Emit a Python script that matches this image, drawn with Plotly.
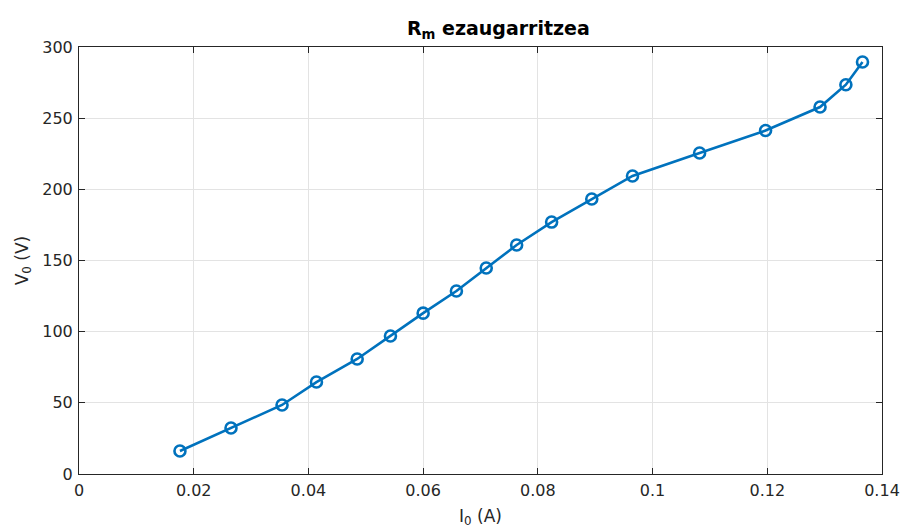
import plotly.graph_objects as go

current_A = [0.0176, 0.0265, 0.0354, 0.0414, 0.0485, 0.0543, 0.0600, 0.0658,
             0.0710, 0.0763, 0.0824, 0.0894, 0.0965, 0.1082, 0.1197, 0.1292,
             0.1337, 0.1366]
voltage_V = [16.2, 32.3, 48.5, 64.6, 80.8, 97.0, 113.0, 128.6, 144.7, 160.9,
             177.0, 193.2, 209.4, 225.5, 241.3, 257.8, 273.5, 289.5]

xticks = [0, 0.02, 0.04, 0.06, 0.08, 0.1, 0.12, 0.14]
xticklabels = ["0", "0.02", "0.04", "0.06", "0.08", "0.1", "0.12", "0.14"]
yticks = [0, 50, 100, 150, 200, 250, 300]

FONT = "DejaVu Sans"
TXT = "#262626"
GRID = "#e3e3e3"

fig = go.Figure()
fig.add_trace(go.Scatter(
    x=current_A, y=voltage_V, mode="lines+markers",
    line=dict(color="#0072BD", width=2.6),
    marker=dict(symbol="circle-open", size=11, color="#0072BD",
                line=dict(width=2.6, color="#0072BD")),
    showlegend=False, cliponaxis=False,
))

axis_common = dict(
    showline=True, linecolor=TXT, linewidth=1, mirror="ticks",
    ticks="inside", ticklen=6, tickcolor=TXT, tickwidth=1,
    showgrid=True, gridcolor=GRID, gridwidth=1, zeroline=False,
    tickfont=dict(family=FONT, size=16, color=TXT),
    automargin=False,
)

fig.update_layout(
    width=900, height=529,
    margin=dict(l=79, r=18, t=47, b=55),
    paper_bgcolor="white", plot_bgcolor="white",
    font=dict(family=FONT, color=TXT),
    title=dict(text="<b>R<sub>m</sub> ezaugarritzea</b>", x=470 / 900, xanchor="center",
               xref="paper", y=1 - 28/529, yanchor="middle",
               font=dict(family=FONT, size=19, color="black")),
    xaxis=dict(range=[0, 0.14], tickvals=xticks, ticktext=xticklabels,
               ticklabelstandoff=2,
               title=dict(text="I<sub>0</sub> (A)", font=dict(family=FONT, size=17, color=TXT),
                          standoff=10),
               **axis_common),
    yaxis=dict(range=[0, 300], tickvals=yticks, ticklabelstandoff=2,
               title=dict(text="V<sub>0</sub> (V)", font=dict(family=FONT, size=17, color=TXT),
                          standoff=9),
               **axis_common),
)

fig.write_html("out.html")
